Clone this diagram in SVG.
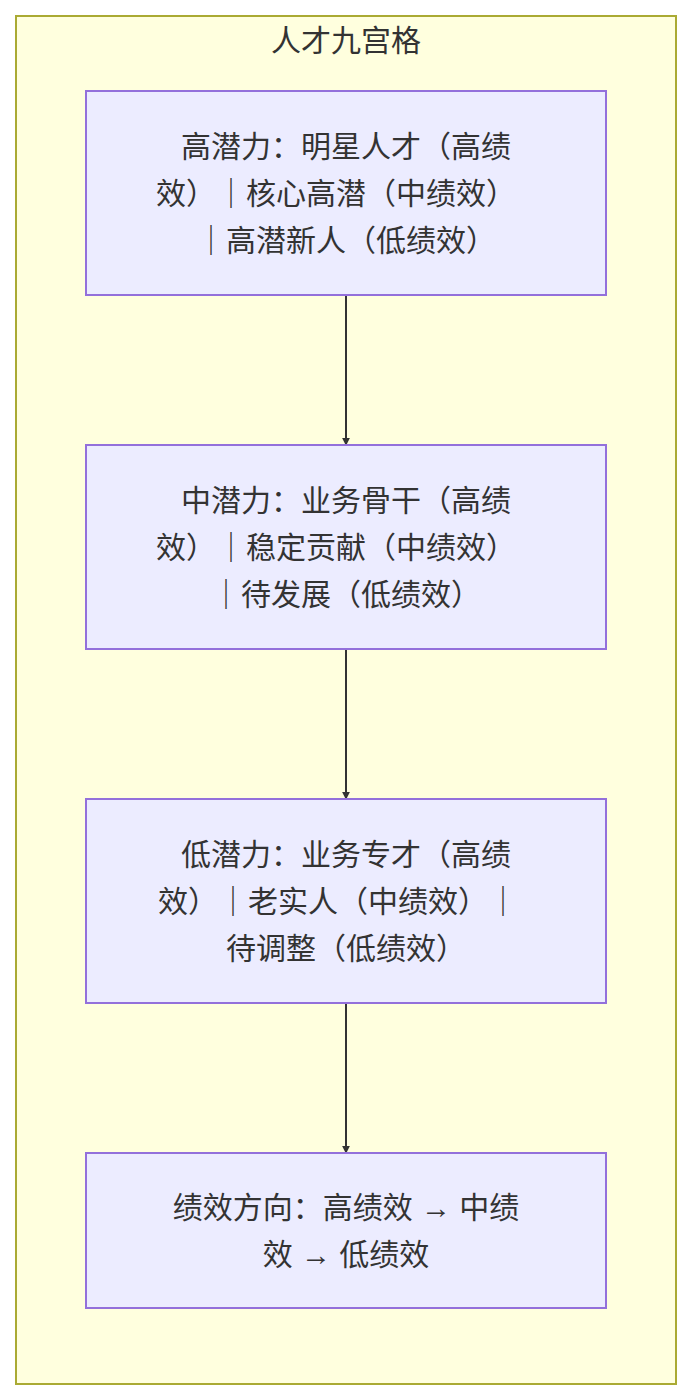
<svg xmlns="http://www.w3.org/2000/svg" width="692" height="1400" viewBox="0 0 692 1400">
<defs>
<style>
.n{fill:#ececff;stroke:#9370db;stroke-width:2}
.t{font-family:"Liberation Sans","Noto Sans CJK SC",sans-serif;font-size:30px;fill:#333;text-anchor:middle}
.e{stroke:#333;stroke-width:2;fill:none;marker-end:url(#a)}
</style>
<marker id="a" viewBox="0 0 10 10" refX="9" refY="5" markerWidth="8" markerHeight="8" orient="auto" markerUnits="userSpaceOnUse"><path d="M0,0L10,5L0,10z" fill="#333"/></marker>
</defs>
<g id="cluster">
<rect x="16" y="16" width="660" height="1368" fill="#ffffde" stroke="#aaaa33" stroke-width="2"/>
<text class="t" x="346" y="51">人才九宫格</text>
</g>
<g id="edges">
<path class="e" d="M346,295V445"/>
<path class="e" d="M346,649V799"/>
<path class="e" d="M346,1003V1153"/>
</g>
<g id="n1"><rect class="n" x="86" y="91" width="520" height="204"/>
<text class="t" x="346" y="157">高潜力：明星人才（高绩</text>
<text class="t" x="336" y="204">效）｜核心高潜（中绩效）</text>
<text class="t" x="346" y="251">｜高潜新人（低绩效）</text></g>
<g id="n2"><rect class="n" x="86" y="445" width="520" height="204"/>
<text class="t" x="346" y="511">中潜力：业务骨干（高绩</text>
<text class="t" x="336" y="558">效）｜稳定贡献（中绩效）</text>
<text class="t" x="346" y="605">｜待发展（低绩效）</text></g>
<g id="n3"><rect class="n" x="86" y="799" width="520" height="204"/>
<text class="t" x="346" y="865">低潜力：业务专才（高绩</text>
<text class="t" x="338" y="912">效）｜老实人（中绩效）｜</text>
<text class="t" x="346" y="959">待调整（低绩效）</text></g>
<g id="n4"><rect class="n" x="86" y="1153" width="520" height="155"/>
<text class="t" x="346" y="1218">绩效方向：高绩效 → 中绩</text>
<text class="t" x="346" y="1265">效 → 低绩效</text></g>
</svg>
